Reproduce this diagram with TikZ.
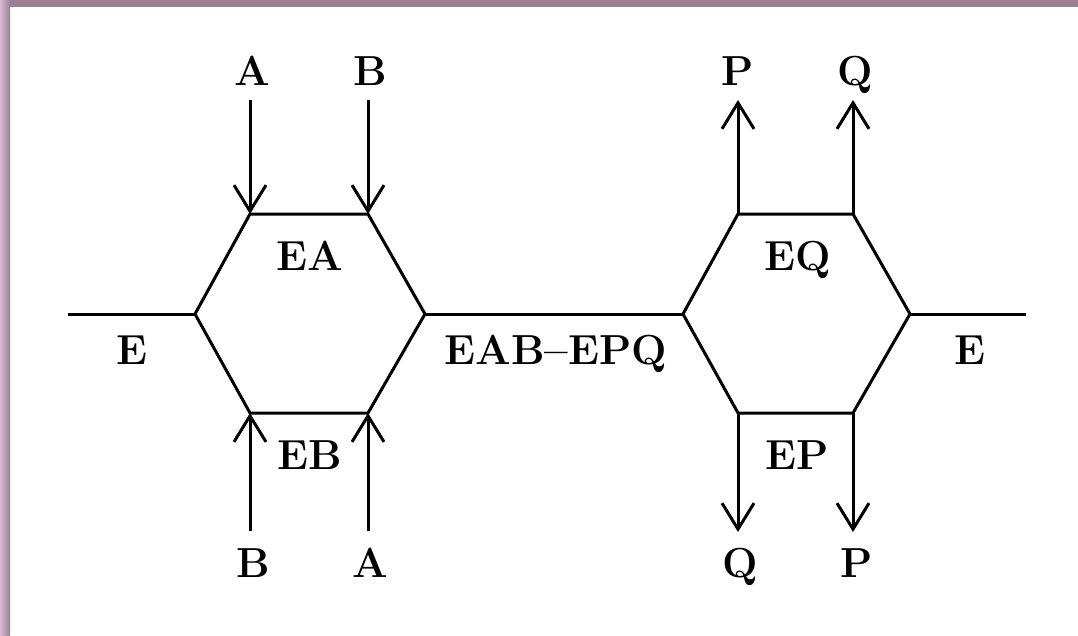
\documentclass[tikz,border=0pt]{standalone}
\usetikzlibrary{arrows.meta}
\definecolor{framedark}{HTML}{9C8096}
\definecolor{framelight}{HTML}{D8BAD2}
\tikzset{
  line/.style={line width=3pt, line cap=butt, line join=miter},
  arr/.style={line, -{Straight Barb[length=26pt,width=32pt,line width=3pt]}},
  lbl/.style={anchor=base, inner sep=0pt, font=\fontsize{42}{50}\selectfont\bfseries},
}
\begin{document}
\begin{tikzpicture}[x=1pt,y=-1pt]
\useasboundingbox (0,0) rectangle (1078,635);
\fill[white] (0,0) rectangle (1078,635);
% frame
\fill[framedark] (0,0) rectangle (1078,7);
\shade[left color=framelight, right color=framedark] (0,0) rectangle (10,635);
% left hexagon vertices
\coordinate (h1L) at (195,314);
\coordinate (h1TL) at (250,214);
\coordinate (h1TR) at (368,214);
\coordinate (h1R) at (425,314);
\coordinate (h1BR) at (368,413);
\coordinate (h1BL) at (250,413);
% right hexagon vertices
\coordinate (h2L) at (683,314);
\coordinate (h2TL) at (738,214);
\coordinate (h2TR) at (853,214);
\coordinate (h2R) at (910,314);
\coordinate (h2BR) at (853,413);
\coordinate (h2BL) at (738,413);
% free ends
\coordinate (eL) at (68,314);
\coordinate (eR) at (1026,314);
\coordinate (aTop) at (250,100);
\coordinate (bTop) at (368,100);
\coordinate (bBot) at (250,531);
\coordinate (aBot) at (368,531);
\coordinate (pTop) at (738,100);
\coordinate (qTop) at (853,100);
\coordinate (qBot) at (738,532);
\coordinate (pBot) at (853,532);
% hexagons
\draw[line] (h1L) -- (h1TL) -- (h1TR) -- (h1R) -- (h1BR) -- (h1BL) -- cycle;
\draw[line] (h2L) -- (h2TL) -- (h2TR) -- (h2R) -- (h2BR) -- (h2BL) -- cycle;
% horizontal lines
\draw[line] (eL) -- (h1L);
\draw[line] (h1R) -- (h2L);
\draw[line] (h2R) -- (eR);
% arrows
\draw[arr] (aTop) -- (h1TL);
\draw[arr] (bTop) -- (h1TR);
\draw[arr] (bBot) -- (h1BL);
\draw[arr] (aBot) -- (h1BR);
\draw[arr] (h2TL) -- (pTop);
\draw[arr] (h2TR) -- (qTop);
\draw[arr] (h2BL) -- (qBot);
\draw[arr] (h2BR) -- (pBot);
% labels
\node[lbl] (tA) at (252,85) {A};
\node[lbl] (tB) at (370,85) {B};
\node[lbl] (tP) at (738,85) {P};
\node[lbl] (tQ) at (855,85) {Q};
\node[lbl] (lEA) at (310,270) {EA};
\node[lbl] (lEQ) at (798,270) {EQ};
\node[lbl] (lE1) at (132,364) {E};
\node[lbl] (lmid) at (556,364) {EAB--EPQ};
\node[lbl] (lE2) at (970,364) {E};
\node[lbl] (lEB) at (310,469) {EB};
\node[lbl] (lEP) at (797,469) {EP};
\node[lbl] (bB) at (253,577) {B};
\node[lbl] (bA) at (370,577) {A};
\node[lbl] (bQ) at (740,577) {Q};
\node[lbl] (bP) at (857,577) {P};
\end{tikzpicture}
\end{document}
